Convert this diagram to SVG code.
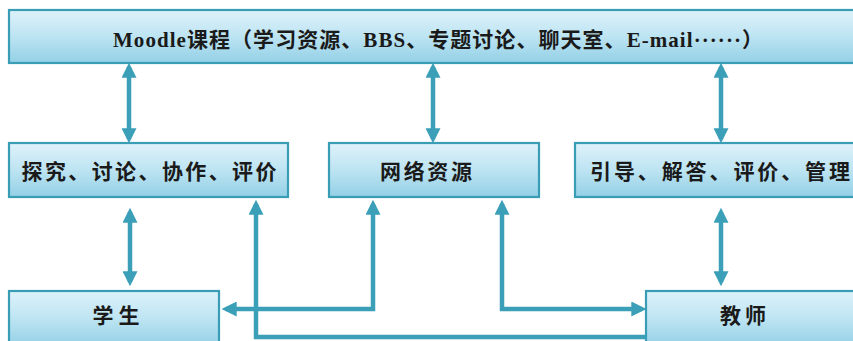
<svg xmlns="http://www.w3.org/2000/svg" width="853" height="341" viewBox="0 0 853 341">
  <defs>
    <linearGradient id="boxGrad" x1="0" y1="0" x2="0" y2="1">
      <stop offset="0" stop-color="#def2fa"/>
      <stop offset="0.5" stop-color="#bde4f2"/>
      <stop offset="1" stop-color="#93d0e6"/>
    </linearGradient>
    <marker id="arrow" markerUnits="userSpaceOnUse" markerWidth="15" markerHeight="15" refX="10" refY="7" orient="auto-start-reverse" viewBox="0 0 14 14">
      <path d="M0,0 L14,7 L0,14 z" fill="#3b9fb8"/>
    </marker>
    <style>
      .box { fill: url(#boxGrad); stroke: #3a9db6; stroke-width: 2.2; }
      .label { font-family: "Liberation Serif", "Noto Sans CJK SC", serif; font-size: 21px; font-weight: 600; fill: #1a1a1a; text-anchor: middle; dominant-baseline: central; }
      .conn { fill: none; stroke: #3b9fb8; stroke-width: 4.5; stroke-linejoin: miter; }
    </style>
  </defs>
  <rect width="853" height="341" fill="#ffffff"/>

  <g id="node-moodle">
    <rect class="box" x="9" y="10" width="850" height="53"/>
    <text class="label" x="438" y="40" textLength="650" lengthAdjust="spacing">Moodle课程（学习资源、BBS、专题讨论、聊天室、E-mail······）</text>
  </g>
  <g id="node-student-activities">
    <rect class="box" x="9" y="143" width="279" height="54"/>
    <text class="label" x="149" y="172" textLength="255" lengthAdjust="spacing">探究、讨论、协作、评价</text>
  </g>
  <g id="node-resources">
    <rect class="box" x="329" y="143" width="210" height="54"/>
    <text class="label" x="426" y="172" textLength="92" lengthAdjust="spacing">网络资源</text>
  </g>
  <g id="node-teacher-activities">
    <rect class="box" x="575" y="143" width="290" height="54"/>
    <text class="label" x="720" y="172" textLength="260" lengthAdjust="spacing">引导、解答、评价、管理</text>
  </g>
  <g id="node-student">
    <rect class="box" x="9" y="291" width="210" height="56"/>
    <text class="label" x="116" y="316" textLength="47" lengthAdjust="spacing">学生</text>
  </g>
  <g id="node-teacher">
    <rect class="box" x="646" y="291" width="215" height="56"/>
    <text class="label" x="743" y="316" textLength="46" lengthAdjust="spacing">教师</text>
  </g>

  <g id="connectors">
    <line class="conn" x1="129" y1="67" x2="129" y2="139" marker-start="url(#arrow)" marker-end="url(#arrow)"/>
    <line class="conn" x1="433" y1="67" x2="433" y2="139" marker-start="url(#arrow)" marker-end="url(#arrow)"/>
    <line class="conn" x1="721" y1="67" x2="721" y2="139" marker-start="url(#arrow)" marker-end="url(#arrow)"/>
    <line class="conn" x1="130" y1="212" x2="130" y2="282" marker-start="url(#arrow)" marker-end="url(#arrow)"/>
    <line class="conn" x1="721" y1="212" x2="721" y2="282" marker-start="url(#arrow)" marker-end="url(#arrow)"/>
    <path class="conn" d="M 226 309 H 373 V 204" marker-start="url(#arrow)" marker-end="url(#arrow)"/>
    <path class="conn" d="M 502 204 V 309 H 642" marker-start="url(#arrow)" marker-end="url(#arrow)"/>
    <path class="conn" d="M 646 337 H 256 V 204" marker-end="url(#arrow)"/>
  </g>
</svg>
